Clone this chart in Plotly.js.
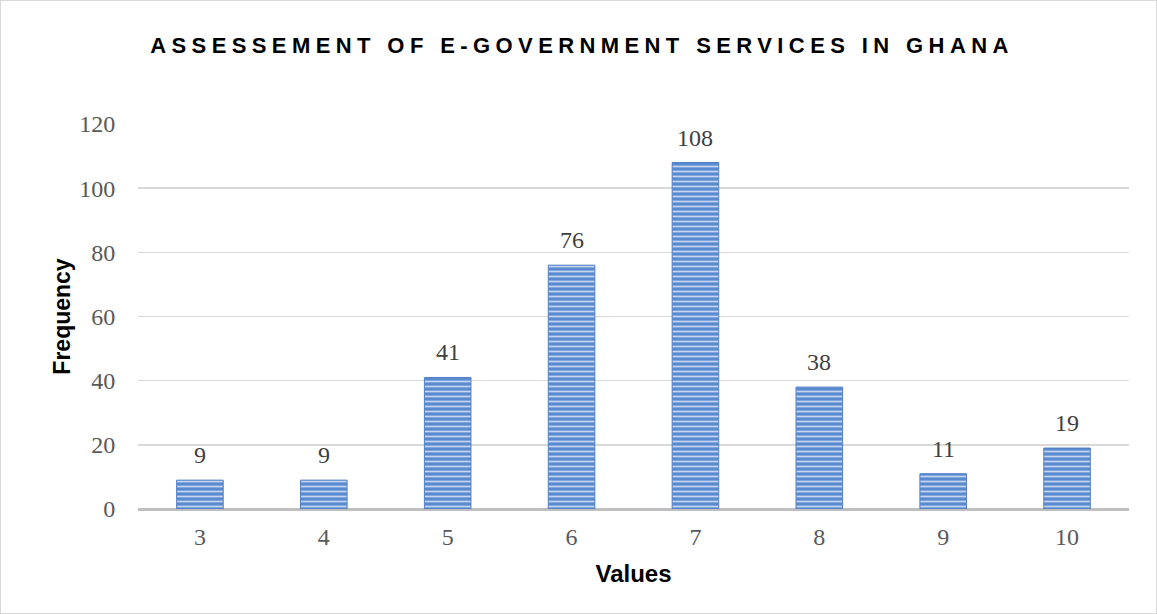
<!DOCTYPE html>
<html>
<head>
<meta charset="utf-8">
<script src="https://cdn.plot.ly/plotly-3.0.1.min.js"></script>
<style>
html,body{margin:0;padding:0;background:#fff;}
#wrap{position:relative;width:1157px;height:614px;}
#chart{width:1157px;height:614px;}
#frame{position:absolute;left:0;top:0;width:1155px;height:612px;border:1px solid #d9d9d9;pointer-events:none;}
</style>
</head>
<body>
<div id="wrap"><div id="chart"></div><div id="frame"></div></div>
<script>
const categories = ['3','4','5','6','7','8','9','10'];
const frequency = [9, 9, 41, 76, 108, 38, 11, 19];
const yTicks = [0, 20, 40, 60, 80, 100, 120];

const serif = 'Liberation Serif, DejaVu Serif, serif';
const sans = 'Liberation Sans, Arial, sans-serif';

const trace = {
  type: 'bar',
  x: categories,
  y: frequency,
  marker: {
    color: '#5a8ad0',
    line: {color: '#5580c4', width: 1},
    pattern: {shape: '-', bgcolor: '#5a8ad0', fgcolor: '#c3d5f1', size: 5, solidity: 0.35}
  },
  hoverinfo: 'skip'
};

const annotations = categories.map((c, i) => ({
  x: i, y: frequency[i], xref: 'x', yref: 'y',
  text: String(frequency[i]), showarrow: false,
  yanchor: 'bottom', yshift: 10,
  font: {family: serif, size: 24, color: '#404040'}
}));

const layout = {
  width: 1157, height: 614,
  margin: {l: 138, r: 28, t: 124, b: 105},
  paper_bgcolor: '#fff', plot_bgcolor: '#fff',
  bargap: 0.624,
  showlegend: false,
  title: {
    text: 'ASSESSEMENT OF E-GOVERNMENT SERVICES IN GHANA',
    x: 582/1157, xref: 'container', xanchor: 'center',
    y: 1 - 45/614, yref: 'container', yanchor: 'middle',
    font: {family: sans, size: 22, color: '#000', weight: 'bold'}
  },
  xaxis: {
    type: 'category',
    range: [-0.5, 7.5],
    showgrid: false,
    showline: false,
    zeroline: false,
    ticks: 'outside', ticklen: 6, tickcolor: 'rgba(0,0,0,0)',
    tickfont: {family: serif, size: 24, color: '#595959'},
    title: {text: 'Values', standoff: 16, font: {family: sans, size: 24, color: '#000', weight: 'bold'}}
  },
  yaxis: {
    range: [0, 120],
    tickvals: yTicks,
    showgrid: true, gridcolor: '#d9d9d9', gridwidth: 1.5,
    zeroline: true, zerolinecolor: '#bfbfbf', zerolinewidth: 3,
    showline: false,
    ticks: 'outside', ticklen: 17, tickcolor: 'rgba(0,0,0,0)',
    tickfont: {family: serif, size: 24, color: '#595959'},
    title: {text: 'Frequency', standoff: 2, font: {family: sans, size: 23, color: '#000', weight: 'bold'}}
  },
  annotations: annotations
};

Plotly.newPlot('chart', [trace], layout, {displayModeBar: false, staticPlot: true}).then(() => {
  document.querySelectorAll('.gtitle').forEach(t => { t.style.letterSpacing = '5.4px'; });
});
</script>
</body>
</html>
